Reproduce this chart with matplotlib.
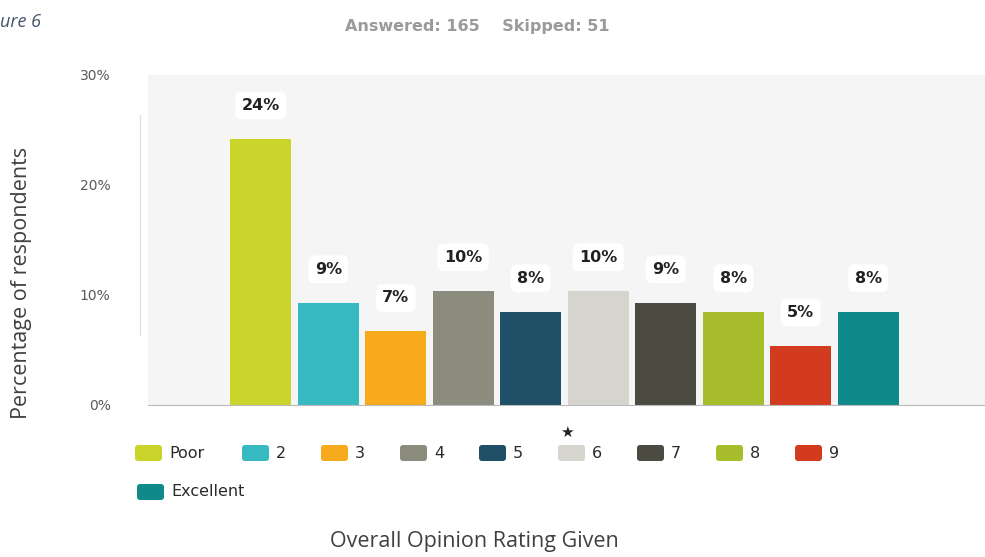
import numpy as np
import matplotlib
matplotlib.use("Agg")
import matplotlib.pyplot as plt
from matplotlib.patches import FancyBboxPatch

# survey results, percent of respondents per rating
ratings = ["Poor", "2", "3", "4", "5", "6", "7", "8", "9", "Excellent"]
percents = [24.2, 9.3, 6.7, 10.4, 8.5, 10.4, 9.3, 8.5, 5.4, 8.5]
colors = ["#c9d52b", "#36b9c1", "#f6aa1c", "#8b8b7e", "#1f5067", "#d5d5cd",
          "#4b4b41", "#a8bd2b", "#d33b1f", "#10898a"]
yticks = [0, 10, 20, 30]

W, H = 985, 557
fig = plt.figure(figsize=(W / 100, H / 100), dpi=100)

# main bar axes (pixel box: x 148..985, y 75..405)
ax = fig.add_axes([148 / W, (H - 405) / H, 1 - 148 / W, 330 / H])
ax.set_facecolor("#f5f5f5")
x = np.arange(len(ratings))
ax.bar(x, percents, width=0.91, color=colors, zorder=2)
for xi, v in zip(x, percents):
    ax.annotate(f"{v:.0f}%", (xi, v), xytext=(0, 24), textcoords="offset points",
                ha="center", va="center", fontsize=11.5, fontweight="bold",
                color="#222222", zorder=3,
                bbox=dict(boxstyle="round,pad=0.4", fc="white", ec="none"))
ax.set_xlim(-1.67, 10.73)
ax.set_ylim(0, 30)
ax.set_xticks([])
ax.set_yticks(yticks)
ax.set_yticklabels([f"{t}%" for t in yticks], fontsize=10, color="#5a5a5a")
ax.tick_params(axis="y", length=0, pad=27)
for s in ["top", "right", "left"]:
    ax.spines[s].set_visible(False)
ax.spines["bottom"].set_color("#bbbbbb")
ax.spines["bottom"].set_zorder(3)

# overlay in pixel coordinates for titles and legend
ov = fig.add_axes([0, 0, 1, 1], facecolor="none")
ov.set_xlim(0, W)
ov.set_ylim(H, 0)
ov.axis("off")

# faint left rule beside the tick labels
ov.plot([140, 140], [115, 335], color="#e2e2e2", lw=1)

ov.text(0, 22, "ure 6", ha="left", va="center", fontsize=13,
        style="italic", color="#44546a", family="Open Sans")
ov.text(477, 27, "Answered: 165    Skipped: 51", ha="center", va="center",
        fontsize=11.5, fontweight="bold", color="#9a9a9a")
ov.text(22, 283, "Percentage of respondents", rotation=90, ha="center",
        va="center", fontsize=15.5, color="#404040", family="Open Sans")
ov.text(474, 541, "Overall Opinion Rating Given", ha="center", va="center",
        fontsize=15.5, color="#404040", family="Open Sans")

# legend: first row Poor..9, second row Excellent
leg_x = [135] + [242 + 79 * k for k in range(8)] + [137]
leg_y = [453] * 9 + [492]
for lx, ly, name, c in zip(leg_x, leg_y, ratings, colors):
    ov.add_patch(FancyBboxPatch((lx, ly - 8), 27, 16,
                                boxstyle="round,pad=0,rounding_size=3",
                                fc=c, ec="none"))
    ov.text(lx + 34, ly, name, ha="left", va="center", fontsize=11.5,
            color="#2a2a2a")
ov.text(leg_x[5] + 9, 432, "\u2605", ha="center", va="center", fontsize=11,
        color="#222222")

fig.savefig("out.png", dpi=100, facecolor="white")
